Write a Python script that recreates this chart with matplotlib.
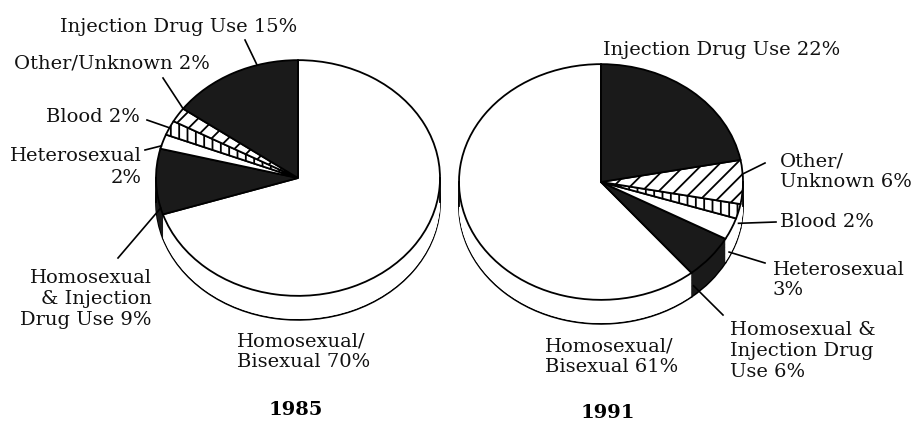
import numpy as np
import matplotlib.pyplot as plt

# AIDS cases by exposure category, share of total (%)
categories = ['Homosexual/Bisexual', 'Homosexual & Injection Drug Use',
              'Heterosexual', 'Blood', 'Other/Unknown', 'Injection Drug Use']
share_1985 = [70, 9, 2, 2, 2, 15]
share_1991 = [61, 6, 3, 2, 6, 22]
labels_1985 = ['Homosexual/\nBisexual 70%', 'Homosexual\n& Injection\nDrug Use 9%',
               'Heterosexual\n2%', 'Blood 2%', 'Other/Unknown 2%', 'Injection Drug Use 15%']
labels_1991 = ['Homosexual/\nBisexual 61%', 'Homosexual &\nInjection Drug\nUse 6%',
               'Heterosexual\n3%', 'Blood 2%', 'Other/\nUnknown 6%', 'Injection Drug Use 22%']
years = ['1985', '1991']

fills = ['white', '#1a1a1a', 'white', 'white', 'white', '#1a1a1a']
hatches = [None, None, None, '||', '//', None]

W, H = 916, 430
K = 0.83          # vertical squash of the pie (tilted look)
R = 142           # pie radius in pixels
DEPTH = 24 / K    # thickness of the pie side

plt.rcParams['font.family'] = 'DejaVu Serif'
plt.rcParams['hatch.linewidth'] = 1.3


def P(x, y):
    # pixel position (from top-left) -> data coords
    return x, (H - y) / K


def draw_pie(ax, values, center, counterclock):
    cx, cy = P(*center)
    ax.pie(values, colors=fills, startangle=90, counterclock=counterclock,
           radius=R, center=(cx, cy - DEPTH),
           wedgeprops=dict(edgecolor='black', linewidth=1.3))
    for off in np.linspace(DEPTH - 1, 0, 40):
        ax.pie(values, colors=fills, startangle=90, counterclock=counterclock,
               radius=R, center=(cx, cy - off), wedgeprops=dict(linewidth=0))
    ax.plot([cx - R, cx - R], [cy, cy - DEPTH], color='black', lw=1.3)
    ax.plot([cx + R, cx + R], [cy, cy - DEPTH], color='black', lw=1.3)
    wedges, _ = ax.pie(values, colors=fills, startangle=90, counterclock=counterclock,
                       radius=R, center=(cx, cy), hatch=hatches,
                       wedgeprops=dict(edgecolor='black', linewidth=1.3))
    return wedges, cx, cy


def leader(ax, wedge, cx, cy, start, frac, down):
    a = np.radians(wedge.theta1 + frac * (wedge.theta2 - wedge.theta1))
    ex = cx + R * np.cos(a)
    ey = cy + R * np.sin(a) - down * DEPTH
    sx, sy = P(*start)
    ax.plot([sx, ex], [sy, ey], color='black', lw=1.2)


fig = plt.figure(figsize=(W / 100, H / 100), dpi=100)
ax = fig.add_axes([0, 0, 1, 1])

txt = dict(fontsize=14, color='#111111')

# 1985 (clockwise)
w85, cx, cy = draw_pie(ax, share_1985, (298, 178), counterclock=False)
ax.text(*P(60, 27), labels_1985[5], ha='left', va='center', **txt)
ax.text(*P(14, 63), labels_1985[4], ha='left', va='center', **txt)
ax.text(*P(46, 117), labels_1985[3], ha='left', va='center', **txt)
ax.text(*P(142, 167), labels_1985[2], ha='right', va='center', ma='right', linespacing=1.25, **txt)
ax.text(*P(152, 299), labels_1985[1], ha='right', va='center', ma='right', linespacing=1.2, **txt)
ax.text(*P(237, 352), labels_1985[0], ha='left', va='center', ma='left', linespacing=1.2, **txt)
ax.text(*P(296, 410), years[0], ha='center', va='center', fontweight='bold', fontsize=14)
leader(ax, w85[5], cx, cy, (245, 40), 0.31, 0)
leader(ax, w85[4], cx, cy, (163, 78), 0.0, 0)
leader(ax, w85[3], cx, cy, (147, 120), 0.5, 0)
leader(ax, w85[2], cx, cy, (145, 150), 0.8, 0)
leader(ax, w85[1], cx, cy, (118, 258), 0.9, 0)

# 1991 (counter-clockwise)
w91, cx, cy = draw_pie(ax, share_1991, (601, 182), counterclock=True)
ax.text(*P(603, 50), labels_1991[5], ha='left', va='center', **txt)
ax.text(*P(780, 172), labels_1991[4], ha='left', va='center', linespacing=1.2, **txt)
ax.text(*P(780, 222), labels_1991[3], ha='left', va='center', **txt)
ax.text(*P(773, 280), labels_1991[2], ha='left', va='center', linespacing=1.2, **txt)
ax.text(*P(730, 351), labels_1991[1], ha='left', va='center', linespacing=1.2, **txt)
ax.text(*P(545, 357), labels_1991[0], ha='left', va='center', linespacing=1.2, **txt)
ax.text(*P(608, 413), years[1], ha='center', va='center', fontweight='bold', fontsize=14)
leader(ax, w91[4], cx, cy, (765, 163), 0.68, 0)
leader(ax, w91[3], cx, cy, (776, 222), 0.5, 0.5)
leader(ax, w91[2], cx, cy, (765, 263), 0.3, 0.8)
leader(ax, w91[1], cx, cy, (723, 315), 0.05, 0.6)

ax.set_aspect('auto')
ax.set_xlim(0, W)
ax.set_ylim(0, H / K)
ax.axis('off')

fig.savefig('out.png', dpi=100, facecolor='white')
